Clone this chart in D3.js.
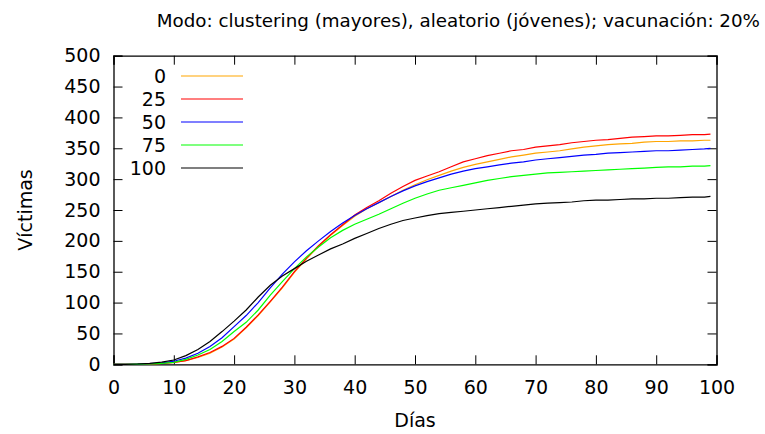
<!DOCTYPE html>
<html>
<head>
<meta charset="utf-8">
<script src="https://cdn.jsdelivr.net/npm/d3@7"></script>
<style>
  body { margin: 0; background: #fff; }
  text { font-family: "DejaVu Sans", sans-serif; font-size: 19px; fill: #000; }
</style>
</head>
<body>
<div id="chart"></div>
<script>
// Data (every 2 days, plus day 99)
var days = [0, 2, 4, 6, 8, 10, 12, 14, 16, 18, 20, 22, 24, 26, 28, 30, 32, 34, 36, 38,
  40, 42, 44, 46, 48, 50, 52, 54, 56, 58, 60, 62, 64, 66, 68, 70, 72, 74, 76, 78,
  80, 82, 84, 86, 88, 90, 92, 94, 96, 98, 99];

var serie0 = [0, 0, 0.3, 0.8, 1.5, 3, 6, 11, 18, 28, 41, 59, 79, 101, 124, 149, 171, 191, 209, 225,
  240, 252, 262, 272, 282, 291, 299, 306, 313, 319, 324, 328, 332, 336, 339, 342, 344, 346, 349, 352,
  354, 356, 357, 358, 360, 361, 361, 362, 362, 363, 363];
var serie25 = [0, 0, 0.3, 0.8, 1.5, 3, 6, 12, 19, 29, 42, 60, 80, 102, 125, 150, 172, 192, 210, 226,
  242, 254, 265, 277, 288, 298, 305, 312, 320, 328, 333, 338, 342, 346, 348, 352, 354, 356, 359, 361,
  363, 364, 366, 368, 369, 370, 370, 371, 372, 372, 373];
var serie50 = [0, 0, 0.3, 1, 2, 5, 10, 18, 29, 43, 61, 79, 100, 124, 146, 166, 184, 200, 215, 229,
  241, 252, 262, 272, 281, 289, 296, 302, 308, 313, 317, 320, 323, 326, 328, 331, 333, 335, 337, 339,
  340, 342, 343, 344, 345, 346, 346, 347, 348, 349, 350];
var serie75 = [0, 0, 0.3, 0.8, 1.5, 3, 8, 15, 24, 37, 53, 68, 88, 112, 134, 155, 174, 190, 205, 217,
  227, 235, 243, 252, 261, 269, 276, 282, 286, 290, 294, 298, 301, 304, 306, 308, 310, 311, 312, 313,
  314, 315, 316, 317, 318, 319, 320, 320, 321, 321, 322];
var serie100 = [0, 0, 0.5, 1.5, 3.5, 7, 14, 24, 37, 53, 70, 88, 109, 128, 143, 155, 167, 177, 187, 195,
  204, 212, 220, 227, 233, 237, 241, 244, 246, 248, 250, 252, 254, 256, 258, 260, 261, 262, 263, 265,
  266, 266, 267, 268, 268, 269, 269, 270, 271, 271, 272];

var seriesNames = ["0", "25", "50", "75", "100"];
var seriesValues = [serie0, serie25, serie50, serie75, serie100];
var seriesColors = ["#ffa500", "#ff0000", "#0000ff", "#00ff00", "#000000"];

var xTicks = [0, 10, 20, 30, 40, 50, 60, 70, 80, 90, 100];
var yTicks = [0, 50, 100, 150, 200, 250, 300, 350, 400, 450, 500];

// SVG area and plot box
var svgWidth = 765;
var svgHeight = 434;
var plot = { left: 113.5, right: 716.5, top: 55.7, bottom: 364.3 };
var tickLen = 9;

var svg = d3.select("#chart")
  .append("svg")
  .attr("width", svgWidth)
  .attr("height", svgHeight);

var xScale = d3.scaleLinear().domain([0, 100]).range([plot.left, plot.right]);
var yScale = d3.scaleLinear().domain([0, 500]).range([plot.bottom, plot.top]);

// Axes: ticks point inward, mirrored on top and right
var bottomAxis = d3.axisBottom(xScale).tickValues(xTicks).tickSize(-tickLen).tickPadding(16);
var topAxis = d3.axisTop(xScale).tickValues(xTicks).tickSize(-tickLen).tickFormat("");
var leftAxis = d3.axisLeft(yScale).tickValues(yTicks).tickSize(-tickLen).tickPadding(13);
var rightAxis = d3.axisRight(yScale).tickValues(yTicks).tickSize(-tickLen).tickFormat("");

svg.append("g").attr("class", "axis").attr("transform", `translate(0, ${plot.bottom})`).call(bottomAxis);
svg.append("g").attr("class", "axis").attr("transform", `translate(0, ${plot.top})`).call(topAxis);
svg.append("g").attr("class", "axis").attr("transform", `translate(${plot.left}, 0)`).call(leftAxis);
svg.append("g").attr("class", "axis").attr("transform", `translate(${plot.right}, 0)`).call(rightAxis);

svg.selectAll(".axis .domain").attr("stroke", "#000").attr("stroke-width", 1.3);
svg.selectAll(".axis line").attr("stroke", "#000").attr("stroke-width", 1);
svg.selectAll(".axis text").style("font-size", "19px").style("font-family", "DejaVu Sans, sans-serif");

// Lines
var line = d3.line()
  .x((d, i) => xScale(days[i]))
  .y(d => yScale(d));

seriesValues.forEach(function(vals, k) {
  svg.append("path")
    .datum(vals)
    .attr("fill", "none")
    .attr("stroke", seriesColors[k])
    .attr("stroke-width", 1.2)
    .attr("d", line);
});

// Legend
var legend = svg.append("g");
seriesNames.forEach(function(name, k) {
  var ly = 76 + k * 23;
  legend.append("text")
    .attr("x", 166)
    .attr("y", ly)
    .attr("dy", "0.36em")
    .attr("text-anchor", "end")
    .text(name);
  legend.append("line")
    .attr("x1", 181).attr("x2", 243)
    .attr("y1", ly).attr("y2", ly)
    .attr("stroke", seriesColors[k])
    .attr("stroke-width", 1.2);
});

// Titles
svg.append("text")
  .attr("x", 760)
  .attr("y", 27)
  .attr("text-anchor", "end")
  .style("font-size", "18.3px")
  .text("Modo: clustering (mayores), aleatorio (jóvenes); vacunación: 20%");

svg.append("text")
  .attr("x", 415)
  .attr("y", 427)
  .attr("text-anchor", "middle")
  .text("Días");

svg.append("text")
  .attr("transform", "rotate(-90)")
  .attr("x", -210)
  .attr("y", 32)
  .attr("text-anchor", "middle")
  .text("Víctimas");
</script>
</body>
</html>
